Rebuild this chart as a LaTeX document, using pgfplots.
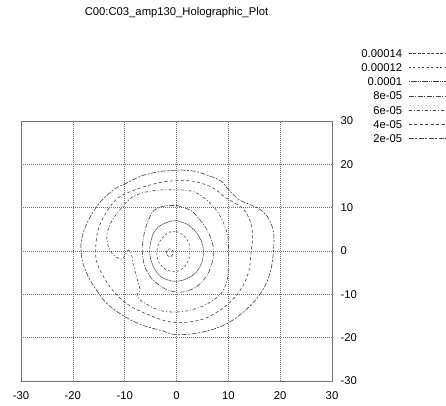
\documentclass[border=0pt]{standalone}
\usepackage{fontspec}
\setmainfont{Liberation Sans}
\usepackage{pgfplots}
\pgfplotsset{compat=1.18}
\newcommand{\lbl}{\fontsize{11.3}{13}\selectfont}
\begin{document}
\begin{tikzpicture}[x=1bp,y=1bp]
\useasboundingbox (-21,-24) rectangle (425,381);
\begin{axis}[at={(0,0)},anchor=south west, scale only axis, width=311bp, height=260bp,
 xmin=-30,xmax=30,ymin=-30,ymax=30,
 xtick={-30,-20,...,30}, ytick={-30,-20,...,30},
 yticklabel pos=right,
 major tick length=0pt,
 grid=major,
 major grid style={black!55, line width=0.5bp, dash pattern=on 1bp off 1bp},
 axis line style={black!55, line width=0.6bp},
 tick label style={font=\lbl, inner sep=0pt},
 /pgf/number format/assume math mode=true,
 xticklabel style={anchor=north, yshift=-10bp},
 yticklabel style={anchor=west, xshift=8.5bp},
 title={C00:C03\_amp130\_Holographic\_Plot},
 title style={at={(0.5,1.3846)}, anchor=base, inner sep=0pt, font=\lbl},
 legend plot pos=right,
 legend cell align=right,
 legend style={at={(1.36656,1.2758)}, anchor=north east, draw=none, fill=none,
   inner sep=0pt, outer sep=0pt, font=\lbl, row sep=6.2bp, column sep=6.3bp,
   nodes={inner sep=0pt, text height=8bp, text depth=0pt}},
 legend image code/.code={\draw[#1] (0bp,0bp) -- (37bp,0bp);},
 every axis plot/.append style={black!75, line width=0.6bp, smooth, tension=0.55},
]
% 0.00014
\addplot[dash pattern=on 3bp off 1.5bp] coordinates {
(-0.65,-0.4) (-0.74,0.05) (-0.97,0.38) (-1.3,0.5) (-1.63,0.38) (-1.86,0.05) (-1.95,-0.4)
(-1.86,-0.85) (-1.63,-1.18) (-1.3,-1.3) (-0.97,-1.18) (-0.74,-0.85) (-0.65,-0.4)};
\addlegendentry{0.00014}
% 0.00012
\addplot[dash pattern=on 2bp off 2.5bp] coordinates {
(0,4.5) (1.5,3.5) (2.4,1.8) (2.6,0) (2.3,-2.2) (1.3,-3.9) (-0.3,-4.8) (-2,-4.3)
(-3.4,-2.6) (-3.8,-0.5) (-3.4,1.8) (-2.2,3.7) (-1,4.5) (0,4.5)};
\addlegendentry{0.00012}
% 0.0001
\addplot[dash pattern=on 1.6bp off 0.6bp] coordinates {
(0,7) (2,6.2) (3.6,4.6) (4.8,2.3) (5.2,0) (4.9,-2.6) (3.8,-4.9) (2,-6.4) (-0.2,-7)
(-2.5,-6.3) (-4,-4.6) (-5,-1.8) (-5.1,1.2) (-4.4,4.2) (-3.1,5.9) (-1.3,6.8) (0,7)};
\addlegendentry{0.0001}
% 8e-05
\addplot[dash pattern=on 5bp off 1.5bp on 1bp off 1.5bp] coordinates {
(0,10.5) (2.7,9.4) (4.6,7.1) (5.9,4.8) (6.9,2) (7.2,-0.5) (6.8,-3) (5.8,-5.8) (3.8,-8.3)
(1.5,-9.4) (-0.5,-9.4) (-2.7,-8.4) (-4.9,-6.2) (-6.2,-3.3) (-6.6,0.5) (-6.2,4.2)
(-5.4,7.2) (-4.3,9.4) (-2.3,10.4) (0,10.5)};
\addlegendentry{8e-05}
% 6e-05
\addplot[dash pattern=on 3bp off 2bp on 1bp off 2bp] coordinates {
(0.8,14.1) (3,13.8) (4.6,12.9) (6.6,10.9) (8.1,8.7) (9.4,5.5) (10,2.5) (10,-0.5)
(10,-3.5) (9.8,-6.5) (8.8,-9.5) (6.5,-11.8) (4,-13.2) (1,-14) (-2,-14) (-4.1,-13.3)
(-6,-12.1) (-7.3,-11) (-7.6,-9.9) (-7,-9.1) (-7.7,-6) (-8.4,-2.9) (-8.7,-0.6) (-9.3,0.2)
(-10.2,-1.5) (-10.8,-1.9) (-12.4,-0.6) (-13.3,1.7) (-13.4,4) (-12.4,7.1) (-10.5,10.1)
(-8.6,12.4) (-6,13.6) (-2.8,14.1) (0.8,14.1)};
\addlegendentry{6e-05}
% 4e-05
\addplot[dash pattern=on 3bp off 2.5bp] coordinates {
(0.8,16.3) (3.7,16) (7,14.6) (9.5,12.3) (12.8,9.8) (14.3,6.6) (14.7,3.1) (14.4,0)
(14,-4.4) (12.7,-8.3) (10.1,-12.1) (6.2,-15.2) (3,-16.3) (-0.2,-16.5) (-2.8,-15.9)
(-6,-14.4) (-9.2,-12.5) (-11.8,-9.8) (-13.7,-6.7) (-15.3,-2.9) (-15.6,0.5) (-15.1,5)
(-13.7,8.6) (-11.8,11.7) (-9.9,13.2) (-6.6,14.7) (-2.8,15.9) (0.8,16.3)};
\addlegendentry{4e-05}
% 2e-05
\addplot[dash pattern=on 5bp off 1.5bp on 2bp off 1.5bp] coordinates {
(0.8,18.7) (3.5,18.4) (6.2,17.4) (8.5,16.2) (10,14.2) (12,11.9) (14.2,10.7) (16,9.7)
(17.6,7.8) (18.6,5) (18.8,1.5) (18.2,-4.4) (16.6,-9.1) (14,-12.9) (10.8,-16) (7.5,-17.9)
(3.7,-19) (-0.2,-19.3) (-2.8,-18.4) (-6.6,-17.1) (-9.9,-15.2) (-13.1,-12.5) (-15,-9.8)
(-17,-6) (-18.2,-2.1) (-18.4,2) (-17.6,5.5) (-16.3,8.6) (-14.4,11.7) (-11.8,14.4)
(-9.9,15.5) (-6.6,17.4) (-2.8,18.4) (0.8,18.7)};
\addlegendentry{2e-05}
\end{axis}
\end{tikzpicture}
\end{document}
